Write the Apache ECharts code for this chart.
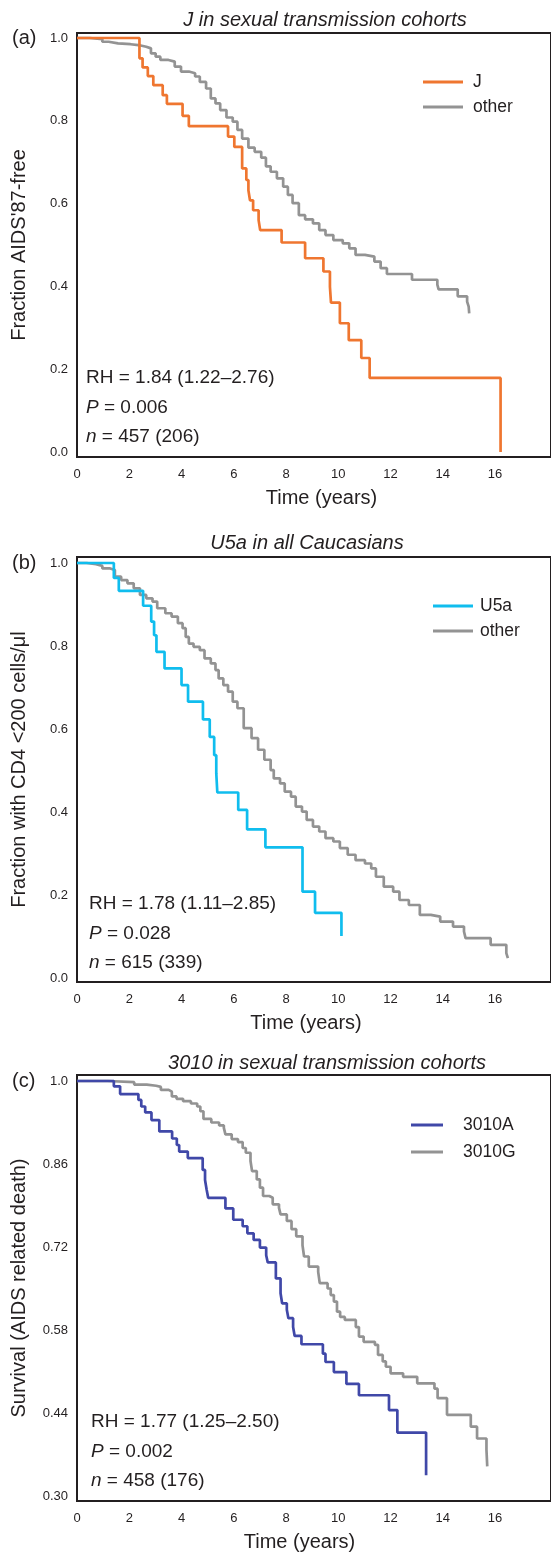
<!DOCTYPE html>
<html>
<head>
<meta charset="utf-8">
<script src="https://cdn.jsdelivr.net/npm/echarts@6/dist/echarts.min.js"></script>
<style>
html, body { margin: 0; padding: 0; background: #ffffff; }
#chart { width: 551px; height: 1553px; }
</style>
</head>
<body>
<div id="chart"></div>
<script>
// (a) J in sexual transmission cohorts
const jTime = [0, 2.39, 2.51, 2.71, 2.92, 3.28, 3.44, 4.04, 4.28, 5.78, 6.02, 6.32, 6.48, 6.56, 6.62, 6.74, 6.95, 7.01, 7.83, 8.73, 9.43, 9.68, 9.72, 10.06, 10.40, 10.88, 11.20, 16.21];
const jSurv = [1, 0.951, 0.929, 0.908, 0.886, 0.862, 0.841, 0.812, 0.787, 0.762, 0.737, 0.685, 0.657, 0.632, 0.608, 0.584, 0.560, 0.536, 0.506, 0.468, 0.436, 0.399, 0.361, 0.311, 0.270, 0.227, 0.179, 0.0];
const otherATime = [0, 0.49, 0.97, 1.21, 1.57, 2.05, 2.35, 2.65, 2.83, 3.01, 3.19, 3.50, 3.74, 3.98, 4.28, 4.52, 4.70, 4.94, 5.12, 5.30, 5.48, 5.72, 5.96, 6.14, 6.32, 6.56, 6.80, 7.05, 7.23, 7.41, 7.65, 7.89, 8.07, 8.25, 8.49, 8.73, 9.03, 9.27, 9.51, 9.81, 10.17, 10.42, 10.66, 11.02, 11.38, 11.62, 11.86, 12.82, 13.79, 13.84, 14.57, 14.93, 14.99, 15.01];
const otherASurv = [1, 0.997, 0.991, 0.987, 0.985, 0.983, 0.979, 0.975, 0.963, 0.955, 0.947, 0.943, 0.931, 0.919, 0.915, 0.907, 0.894, 0.878, 0.854, 0.842, 0.826, 0.808, 0.798, 0.778, 0.757, 0.735, 0.725, 0.711, 0.690, 0.677, 0.661, 0.641, 0.621, 0.601, 0.572, 0.562, 0.552, 0.536, 0.524, 0.512, 0.504, 0.492, 0.476, 0.472, 0.460, 0.444, 0.430, 0.416, 0.404, 0.393, 0.376, 0.363, 0.351, 0.335];

// (b) U5a in all Caucasians
const u5aTime = [0, 1.41, 1.60, 2.53, 2.84, 2.95, 3.04, 3.35, 4.00, 4.25, 4.82, 5.08, 5.25, 5.33, 5.37, 6.17, 6.51, 7.21, 8.63, 9.11, 10.12];
const u5aSurv = [1, 0.964, 0.933, 0.897, 0.859, 0.826, 0.786, 0.746, 0.706, 0.666, 0.623, 0.581, 0.537, 0.493, 0.447, 0.405, 0.358, 0.315, 0.208, 0.157, 0.101];
const otherBTime = [0, 0.37, 0.73, 0.97, 1.27, 1.45, 1.69, 1.93, 2.17, 2.41, 2.65, 2.89, 3.07, 3.38, 3.62, 3.86, 4.04, 4.16, 4.28, 4.46, 4.70, 4.88, 5.12, 5.30, 5.42, 5.60, 5.78, 5.96, 6.14, 6.38, 6.68, 6.93, 7.17, 7.41, 7.53, 7.77, 7.95, 8.19, 8.37, 8.61, 8.79, 9.03, 9.27, 9.51, 9.81, 10.06, 10.36, 10.66, 11.02, 11.26, 11.44, 11.74, 12.10, 12.34, 12.70, 13.12, 13.54, 13.90, 14.39, 14.81, 14.87, 15.83, 16.43, 16.49];
const otherBSurv = [1, 0.997, 0.993, 0.987, 0.983, 0.967, 0.959, 0.951, 0.939, 0.923, 0.915, 0.907, 0.891, 0.879, 0.871, 0.855, 0.843, 0.822, 0.806, 0.798, 0.790, 0.770, 0.758, 0.742, 0.722, 0.706, 0.690, 0.666, 0.650, 0.602, 0.578, 0.550, 0.526, 0.501, 0.481, 0.469, 0.449, 0.437, 0.413, 0.401, 0.381, 0.365, 0.353, 0.337, 0.329, 0.313, 0.297, 0.284, 0.276, 0.264, 0.244, 0.220, 0.208, 0.188, 0.176, 0.152, 0.148, 0.136, 0.124, 0.112, 0.096, 0.080, 0.060, 0.048];

// (c) 3010 in sexual transmission cohorts
const aTime = [0, 1.41, 1.65, 2.35, 2.46, 2.61, 2.85, 3.15, 3.64, 3.82, 3.91, 4.24, 4.81, 4.90, 4.96, 5.02, 5.68, 5.98, 6.34, 6.52, 6.76, 7.00, 7.24, 7.30, 7.61, 7.79, 7.85, 8.03, 8.09, 8.27, 8.33, 8.59, 9.41, 9.51, 9.83, 10.31, 10.79, 11.94, 12.26, 13.36];
const aSurv = [1, 0.991, 0.978, 0.968, 0.957, 0.947, 0.934, 0.915, 0.903, 0.892, 0.881, 0.870, 0.850, 0.833, 0.817, 0.803, 0.785, 0.766, 0.755, 0.743, 0.732, 0.719, 0.706, 0.694, 0.667, 0.642, 0.625, 0.614, 0.600, 0.585, 0.570, 0.556, 0.540, 0.526, 0.509, 0.489, 0.470, 0.445, 0.407, 0.335];
const gTime = [0, 1.17, 2.19, 2.67, 3.03, 3.21, 3.51, 3.63, 3.81, 4.06, 4.36, 4.60, 4.72, 4.84, 5.14, 5.44, 5.62, 5.68, 5.92, 6.16, 6.34, 6.46, 6.64, 6.70, 6.88, 7.00, 7.12, 7.36, 7.49, 7.73, 7.79, 8.03, 8.21, 8.39, 8.63, 8.69, 8.87, 9.23, 9.29, 9.59, 9.71, 9.83, 9.95, 10.07, 10.25, 10.67, 10.79, 10.97, 11.40, 11.52, 11.70, 11.82, 12.00, 12.48, 13.02, 13.68, 13.80, 14.16, 15.07, 15.31, 15.67, 15.70];
const gSurv = [1, 0.998, 0.994, 0.992, 0.990, 0.985, 0.982, 0.974, 0.970, 0.966, 0.962, 0.957, 0.949, 0.936, 0.930, 0.925, 0.921, 0.910, 0.902, 0.897, 0.887, 0.879, 0.865, 0.848, 0.834, 0.820, 0.806, 0.803, 0.792, 0.786, 0.775, 0.764, 0.750, 0.738, 0.723, 0.704, 0.687, 0.678, 0.659, 0.650, 0.639, 0.628, 0.611, 0.602, 0.597, 0.585, 0.569, 0.560, 0.555, 0.538, 0.527, 0.518, 0.507, 0.501, 0.490, 0.481, 0.465, 0.437, 0.417, 0.397, 0.378, 0.350];

const xTicks = [0, 2, 4, 6, 8, 10, 12, 14, 16];
const yTicksAB = [0, 0.2, 0.4, 0.6, 0.8, 1.0];
const yTicksC = [0.30, 0.44, 0.58, 0.72, 0.86, 1.0];

const FONT = '"Liberation Sans", Arial, sans-serif';
const INK = '#231f20';
const ORANGE = '#ef7630', GREY = '#939393', CYAN = '#10bdee', BLUE = '#4048a8';

function pairs(t, v) { return t.map((x, i) => [x, v[i]]); }

const chart = echarts.init(document.getElementById('chart'), null, {renderer: 'canvas'});

// plot frames run past the right edge of the page, as in the figure
const grids = [
  {left: 77, top: 33, width: 477, height: 424},
  {left: 77, top: 557, width: 477, height: 425},
  {left: 77, top: 1075, width: 477, height: 426}
].map(g => Object.assign(g, {show: true, borderColor: INK, borderWidth: 2, backgroundColor: 'transparent'}));

function xAxis(idx, namePad) {
  return {
    type: 'value', gridIndex: idx, min: 0, max: 18.14,
    name: 'Time (years)', nameLocation: 'middle', nameGap: 31,
    nameTextStyle: {fontFamily: FONT, fontSize: 20, color: INK, padding: namePad},
    axisLine: {show: false}, axisTick: {show: false}, splitLine: {show: false},
    axisLabel: {customValues: xTicks, fontFamily: FONT, fontSize: 13, color: INK, margin: 11}
  };
}
function yAxis(idx, name, min, max, ticks, fmt) {
  return {
    type: 'value', gridIndex: idx, min: min, max: max,
    name: name, nameLocation: 'middle', nameGap: 48,
    nameTextStyle: {fontFamily: FONT, fontSize: 20, color: INK},
    axisLine: {show: false}, axisTick: {show: false}, splitLine: {show: false},
    axisLabel: {customValues: ticks, formatter: fmt, fontFamily: FONT, fontSize: 13, color: INK, margin: 9}
  };
}
function km(name, idx, t, v, color) {
  return {
    name: name, type: 'line', xAxisIndex: idx, yAxisIndex: idx,
    step: 'end', symbol: 'none', data: pairs(t, v),
    lineStyle: {color: color, width: 2.7}, itemStyle: {color: color},
    animation: false
  };
}
function legend(names, left, top, width, gap, textPad) {
  return {
    data: names.map(n => ({name: n, icon: 'rect'})),
    orient: 'vertical', left: left, top: top, padding: 0,
    itemWidth: width, itemHeight: 3, itemGap: gap,
    textStyle: {fontFamily: FONT, fontSize: 17.5, color: INK, lineHeight: 20, padding: [0, 0, 0, textPad]},
    selectedMode: false
  };
}
function txt(x, y, text, size, align, italic) {
  return {
    type: 'text', x: x, y: y,
    style: {
      text: text, fill: INK, font: (italic ? 'italic ' : '') + size + 'px ' + FONT,
      textAlign: align, textVerticalAlign: 'middle',
      rich: {i: {fontStyle: 'italic', fontSize: size, fontFamily: FONT, fill: INK}}
    }
  };
}
function stats(x, y0, rh, p, n) {
  return [
    txt(x, y0, 'RH = ' + rh, 19, 'left'),
    txt(x, y0 + 30, '{i|P} = ' + p, 19, 'left'),
    txt(x, y0 + 59, '{i|n} = ' + n, 19, 'left')
  ];
}

const fmt1 = v => v.toFixed(1);
const fmtC = v => (v === 1 ? '1.0' : v.toFixed(2));

chart.setOption({
  backgroundColor: '#ffffff',
  animation: false,
  grid: grids,
  xAxis: [xAxis(0, [0, 0, 0, 15]), xAxis(1, [0, 16, 0, 0]), xAxis(2, [0, 29, 0, 0])],
  yAxis: [
    yAxis(0, "Fraction AIDS'87-free", -0.0121, 1.0121, yTicksAB, fmt1),
    yAxis(1, 'Fraction with CD4 <200 cells/\u03bcl', -0.0096, 1.0145, yTicksAB, fmt1),
    yAxis(2, 'Survival (AIDS related death)', 0.2916, 1.0101, yTicksC, fmtC)
  ],
  legend: [
    legend(['J', 'other'], 423, 72, 40, 5, 5),
    legend(['U5a', 'other'], 433, 596, 40, 5, 2),
    legend(['3010A', '3010G'], 411, 1115, 32, 7, 15)
  ],
  series: [
    km('other', 0, otherATime, otherASurv, GREY),
    km('J', 0, jTime, jSurv, ORANGE),
    km('other', 1, otherBTime, otherBSurv, GREY),
    km('U5a', 1, u5aTime, u5aSurv, CYAN),
    km('3010G', 2, gTime, gSurv, GREY),
    km('3010A', 2, aTime, aSurv, BLUE)
  ],
  graphic: [
    txt(325, 20, 'J in sexual transmission cohorts', 20, 'center', true),
    txt(307, 543, 'U5a in all Caucasians', 20, 'center', true),
    txt(327, 1063, '3010 in sexual transmission cohorts', 20, 'center', true),
    txt(12, 38, '(a)', 20, 'left'),
    txt(12, 563, '(b)', 20, 'left'),
    txt(12, 1081, '(c)', 20, 'left'),
    ...stats(86, 378, '1.84 (1.22\u20132.76)', '0.006', '457 (206)'),
    ...stats(89, 904, '1.78 (1.11\u20132.85)', '0.028', '615 (339)'),
    ...stats(91, 1422, '1.77 (1.25\u20132.50)', '0.002', '458 (176)')
  ]
});
</script>
</body>
</html>
